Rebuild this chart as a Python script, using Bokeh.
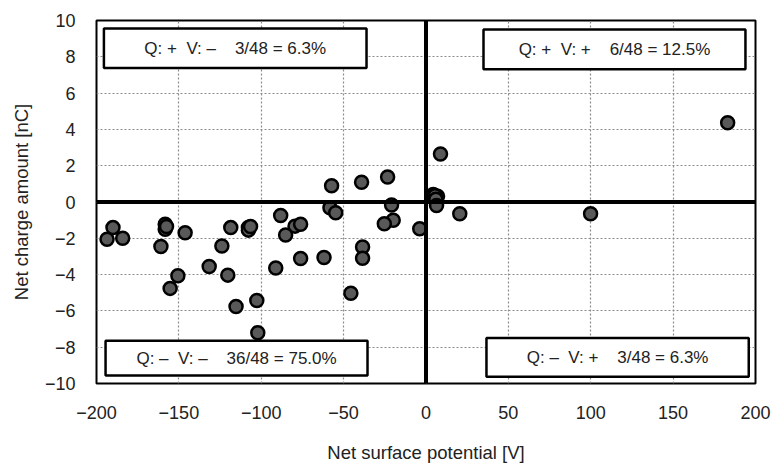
from bokeh.plotting import figure
from bokeh.models import Span, FixedTicker, ColumnDataSource
from bokeh.core.properties import value
from bokeh.embed import file_html
from bokeh.resources import INLINE

# Data
potential_v = [
    -190.0, -193.6, -184.1, -158.3, -158.3, -160.9, -146.2, -118.5, -107.8, -107.8,
    -123.9, -131.6, -150.6, -120.3, -155.3, -115.3, -102.7, -102.1, -91.2, -88.2,
    -79.5, -76.1, -85.2, -76.1, -61.9, -58.3, -54.8, -20.9, -19.9, -25.3,
    -38.5, -38.5, -45.6, -3.8, -106.5, -157.5,
    -57.3, -39.1, -23.3,
    8.8, 183.1, 4.4, 7.0, 5.5, 6.0,
    6.4, 20.5, 99.9,
]
charge_nc = [
    -1.41, -2.05, -2.00, -1.23, -1.50, -2.45, -1.69, -1.41, -1.41, -1.55,
    -2.42, -3.55, -4.06, -4.03, -4.76, -5.76, -5.43, -7.20, -3.64, -0.74,
    -1.33, -1.23, -1.82, -3.11, -3.06, -0.32, -0.59, -0.17, -1.01, -1.20,
    -2.48, -3.10, -5.03, -1.47, -1.35, -1.35,
    0.90, 1.09, 1.38,
    2.64, 4.37, 0.41, 0.32, 0.35, 0.15,
    -0.19, -0.65, -0.65,
]

x_ticks = [-200, -150, -100, -50, 0, 50, 100, 150, 200]
y_ticks = [-10, -8, -6, -4, -2, 0, 2, 4, 6, 8, 10]

NB = "\u00a0"
box_texts = [
    "Q: +" + NB * 2 + "V: \u2013" + NB * 4 + "3/48 = 6.3%",
    "Q: +" + NB * 2 + "V: +" + NB * 4 + "6/48 = 12.5%",
    "Q: \u2013" + NB * 2 + "V: \u2013" + NB * 4 + "36/48 = 75.0%",
    "Q: \u2013" + NB * 2 + "V: +" + NB * 4 + "3/48 = 6.3%",
]
# box extents in data units (left, right, bottom, top)
box_left = [-195.5, 34.9, -194.5, 36.7]
box_right = [-36.1, 193.9, -35.5, 195.9]
box_bottom = [7.38, 7.32, -9.56, -9.63]
box_top = [9.56, 9.51, -7.65, -7.49]

FONT = "Liberation Sans"

p = figure(width=771, height=465, x_range=(-200, 200), y_range=(-10, 10),
           output_backend="svg", toolbar_location=None,
           min_border_left=96, min_border_right=16, min_border_top=20, min_border_bottom=79)
p.background_fill_color = "white"
p.border_fill_color = "white"
p.outline_line_color = "black"
p.outline_line_width = 2

for g in (p.xgrid, p.ygrid):
    g.grid_line_color = "#8c8c8c"
    g.grid_line_dash = "2 2"
    g.grid_line_width = 1.2
p.xgrid.ticker = FixedTicker(ticks=x_ticks)
p.ygrid.ticker = FixedTicker(ticks=y_ticks)

p.xaxis.ticker = FixedTicker(ticks=x_ticks)
p.yaxis.ticker = FixedTicker(ticks=y_ticks)
p.xaxis.major_label_overrides = {t: (str(t).replace("-", "\u2212")) for t in x_ticks}
p.yaxis.major_label_overrides = {t: (str(t).replace("-", "\u2212")) for t in y_ticks}

for ax in (p.xaxis, p.yaxis):
    ax.axis_line_color = None
    ax.major_tick_line_color = None
    ax.minor_tick_line_color = None
    ax.major_label_text_font = FONT
    ax.major_label_text_font_size = "18px"
    ax.major_label_text_color = "#222222"
    ax.axis_label_text_font = FONT
    ax.axis_label_text_font_size = "18.5px"
    ax.axis_label_text_font_style = "normal"
    ax.axis_label_text_color = "#222222"

p.xaxis.axis_label = "Net surface potential [V]"
p.yaxis.axis_label = "Net charge amount [nC]"
p.xaxis.major_label_standoff = 16
p.xaxis.axis_label_standoff = 20
p.yaxis.major_label_standoff = 15
p.yaxis.axis_label_standoff = 10

# thick zero lines
p.add_layout(Span(location=0, dimension="height", line_color="black", line_width=4))
p.add_layout(Span(location=0, dimension="width", line_color="black", line_width=4))

src = ColumnDataSource(dict(x=potential_v, y=charge_nc))
p.scatter("x", "y", source=src, size=13, fill_color="#595959", line_color="black", line_width=2.5)

# annotation boxes
bsrc = ColumnDataSource(dict(l=box_left, r=box_right, b=box_bottom, t=box_top,
                             cx=[(a + b) / 2 for a, b in zip(box_left, box_right)],
                             cy=[(a + b) / 2 for a, b in zip(box_bottom, box_top)],
                             txt=box_texts))
p.quad(left="l", right="r", bottom="b", top="t", source=bsrc,
       fill_color="white", line_color="black", line_width=2.5)
p.text(x="cx", y="cy", text="txt", source=bsrc, text_align="center", text_baseline="middle",
       text_font=value(FONT), text_font_size="17px", text_color="#222222")

open("out.html", "w").write(file_html(p, INLINE))
